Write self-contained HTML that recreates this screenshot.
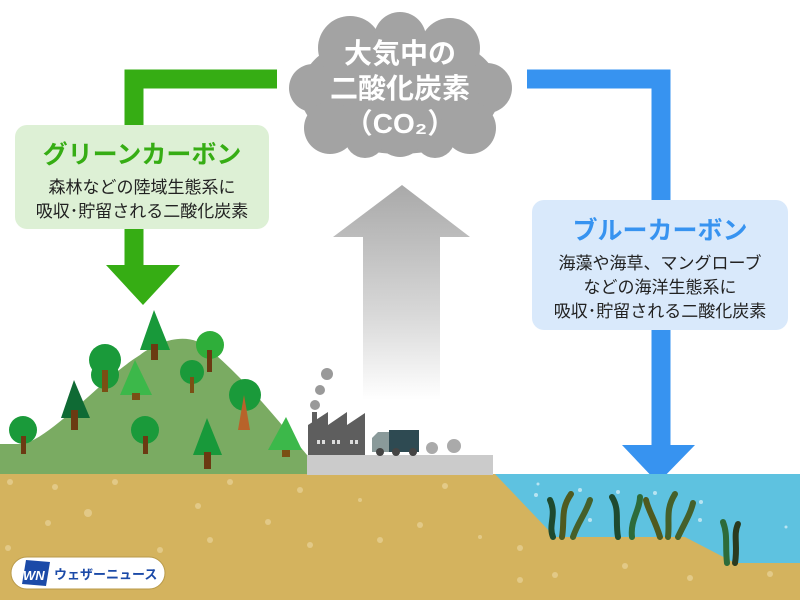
<!DOCTYPE html>
<html><head><meta charset="utf-8"><style>
html,body{margin:0;padding:0;background:#fff;}
svg{display:block;}
text{font-family:"Liberation Sans","Noto Sans CJK JP",sans-serif;}
</style></head><body>
<svg width="800" height="600" viewBox="0 0 800 600" xmlns="http://www.w3.org/2000/svg">
<defs>
<linearGradient id="ga" x1="0" y1="0" x2="0" y2="1">
<stop offset="0" stop-color="#a9a9a9"/><stop offset="0.6" stop-color="#d8d8d8"/><stop offset="1" stop-color="#ffffff"/>
</linearGradient>
</defs>
<rect width="800" height="600" fill="#fff"/>
<polygon points="402,185 470,237 440,237 440,400 363,400 363,237 333,237" fill="url(#ga)"/>
<path d="M277,79 L134,79 L134,265" fill="none" stroke="#36ad14" stroke-width="19" stroke-linejoin="miter"/>
<polygon points="106,265 180,265 143,305" fill="#36ad14"/>
<path d="M527,79 L661,79 L661,445" fill="none" stroke="#3793f0" stroke-width="19"/>
<polygon points="622,445 695,445 658,483" fill="#3793f0"/>
<rect x="15" y="125" width="254" height="104" rx="12" fill="#ddf0d5"/>
<text x="142" y="163" text-anchor="middle" font-size="25" font-weight="bold" fill="#36ad14">グリーンカーボン</text>
<text x="142" y="193" text-anchor="middle" font-size="17" fill="#222">森林などの陸域生態系に</text>
<text x="142" y="217" text-anchor="middle" font-size="17" fill="#222">吸収･貯留される二酸化炭素</text>
<rect x="532" y="200" width="256" height="130" rx="12" fill="#d9e9fb"/>
<text x="660" y="239" text-anchor="middle" font-size="25" font-weight="bold" fill="#3793f0">ブルーカーボン</text>
<text x="660" y="269" text-anchor="middle" font-size="17" fill="#222">海藻や海草、マングローブ</text>
<text x="660" y="293" text-anchor="middle" font-size="17" fill="#222">などの海洋生態系に</text>
<text x="660" y="317" text-anchor="middle" font-size="17" fill="#222">吸収･貯留される二酸化炭素</text>
<g fill="#a3a3a3">
<ellipse cx="400" cy="92" rx="100" ry="62"/>
<circle cx="350" cy="48" r="32"/><circle cx="400" cy="38" r="26"/><circle cx="450" cy="48" r="30"/>
<circle cx="313" cy="88" r="24"/><circle cx="487" cy="88" r="25"/>
<circle cx="330" cy="128" r="26"/><circle cx="470" cy="128" r="26"/>
<circle cx="400" cy="133" r="24"/><circle cx="365" cy="138" r="20"/><circle cx="435" cy="138" r="20"/>
</g>
<text x="400" y="63" text-anchor="middle" font-size="28" font-weight="bold" fill="#fff">大気中の</text>
<text x="400" y="98" text-anchor="middle" font-size="28" font-weight="bold" fill="#fff">二酸化炭素</text>
<text x="400" y="133" text-anchor="middle" font-size="28" font-weight="bold" fill="#fff">（CO₂）</text>
<rect x="493" y="474" width="307" height="126" fill="#5ec2e0"/>
<path d="M0,474 L495,474 L555,537 L685,537 L735,563 L800,563 L800,600 L0,600 Z" fill="#d4b35e"/>
<g fill="#e6cf92" opacity="0.8">
<circle cx="10" cy="482" r="3"/><circle cx="55" cy="487" r="3"/><circle cx="115" cy="482" r="3"/><circle cx="198" cy="506" r="3"/><circle cx="230" cy="482" r="3"/><circle cx="88" cy="513" r="4"/><circle cx="48" cy="523" r="3"/><circle cx="210" cy="540" r="3"/><circle cx="300" cy="490" r="3"/><circle cx="268" cy="522" r="3"/><circle cx="360" cy="500" r="2"/><circle cx="380" cy="540" r="3"/><circle cx="445" cy="486" r="3"/><circle cx="420" cy="525" r="3"/><circle cx="480" cy="537" r="2"/><circle cx="310" cy="545" r="3"/><circle cx="160" cy="550" r="3"/><circle cx="8" cy="548" r="3"/><circle cx="520" cy="548" r="3"/><circle cx="555" cy="575" r="3"/><circle cx="625" cy="566" r="3"/><circle cx="690" cy="578" r="3"/><circle cx="770" cy="574" r="3"/><circle cx="520" cy="580" r="3"/>
</g>
<g fill="#b8e4f2"><circle cx="538" cy="484" r="1.5"/><circle cx="536" cy="495" r="2"/><circle cx="580" cy="490" r="2"/><circle cx="618" cy="492" r="2"/><circle cx="655" cy="493" r="2"/><circle cx="701" cy="502" r="2"/><circle cx="700" cy="520" r="2"/><circle cx="590" cy="520" r="2"/><circle cx="786" cy="527" r="1.5"/></g>
<g stroke-linecap="round" fill="none" stroke-width="6">
<path d="M553,537 C548,525 557,515 550,500" stroke="#1e4a2e"/>
<path d="M562,537 C565,520 560,510 571,494" stroke="#4f5a1f"/>
<path d="M573,537 C578,522 585,515 590,500" stroke="#45602a"/>
<path d="M618,537 C615,520 620,510 612,497" stroke="#1e4a2e"/>
<path d="M632,537 C630,520 640,510 640,497" stroke="#2d6b3a"/>
<path d="M660,537 C655,520 648,510 646,500" stroke="#4f5a1f"/>
<path d="M668,537 C670,520 665,510 675,494" stroke="#45602a"/>
<path d="M678,537 C685,522 690,515 693,503" stroke="#45602a"/>
<path d="M727,563 C725,545 728,535 723,522" stroke="#2d6b3a"/>
<path d="M735,563 C738,545 733,535 738,524" stroke="#2a3a1f"/>
</g>
<rect x="307" y="455" width="186" height="20" fill="#cbcbcb"/>
<path d="M0,474 L0,444 L25,444 C60,430 100,380 140,355 C160,340 190,330 210,350 C240,375 270,410 307,455 L307,474 Z" fill="#7aab62"/>
<g>
<polygon points="154,310 140,350 170,350" fill="#18993a"/><rect x="151" y="344" width="7" height="16" fill="#6b3a12"/>
<circle cx="105" cy="360" r="16" fill="#1a9a3a"/><circle cx="105" cy="375" r="14" fill="#1a9a3a"/><rect x="102" y="370" width="6" height="22" fill="#7a4f14"/>
<polygon points="135,360 120,395 152,395" fill="#3cb84a"/><rect x="132" y="393" width="8" height="7" fill="#7a4f14"/>
<circle cx="210" cy="345" r="14" fill="#2fae3a"/><rect x="207" y="350" width="5" height="22" fill="#6b3a12"/>
<circle cx="192" cy="372" r="12" fill="#1a9a3a"/><rect x="190" y="377" width="4" height="16" fill="#7a4f14"/>
<polygon points="74,380 61,418 90,418" fill="#0f6a34"/><rect x="71" y="410" width="7" height="20" fill="#6b3a12"/>
<circle cx="245" cy="395" r="16" fill="#1a9a3a"/><polygon points="244,395 238,430 250,430" fill="#b8632a"/>
<circle cx="23" cy="430" r="14" fill="#1a9a3a"/><rect x="21" y="436" width="5" height="18" fill="#6b3a12"/>
<circle cx="145" cy="430" r="14" fill="#1a9a3a"/><rect x="143" y="436" width="5" height="18" fill="#6b3a12"/>
<polygon points="207,418 193,455 222,455" fill="#18993a"/><rect x="204" y="452" width="7" height="17" fill="#6b3a12"/>
<polygon points="286,417 268,450 302,450" fill="#3cb84a"/><rect x="282" y="450" width="8" height="7" fill="#7a4f14"/>
</g>
<rect x="312" y="412" width="5" height="20" fill="#5e5e5e"/>
<polygon points="308,455 308,425 328,412 328,425 347,412 347,425 365,413 365,455" fill="#5e5e5e"/>
<g fill="#ddd"><rect x="317" y="440" width="3" height="4"/><rect x="322" y="440" width="3" height="4"/><rect x="332" y="440" width="3" height="4"/><rect x="337" y="440" width="3" height="4"/><rect x="350" y="440" width="3" height="4"/><rect x="355" y="440" width="3" height="4"/></g>
<g fill="#999"><circle cx="315" cy="405" r="5"/><circle cx="320" cy="390" r="5"/><circle cx="327" cy="374" r="6"/></g>
<rect x="389" y="430" width="30" height="22" fill="#2e4a52"/>
<path d="M372,452 L372,438 L378,432 L389,432 L389,452 Z" fill="#8a9a9a"/>
<circle cx="380" cy="452" r="4" fill="#444"/><circle cx="396" cy="452" r="4" fill="#444"/><circle cx="413" cy="452" r="4" fill="#444"/>
<g fill="#aaa"><circle cx="432" cy="448" r="6"/><circle cx="454" cy="446" r="7"/></g>
<rect x="11" y="557" width="154" height="32" rx="16" fill="#fff" stroke="#b99a4a" stroke-width="1"/>
<polygon points="26,560 50,562 46,586 22,584" fill="#1b4aa8"/>
<text x="23" y="580" font-size="13" font-weight="bold" font-style="italic" fill="#fff">WN</text>
<text x="54" y="579" font-size="13" font-weight="bold" fill="#1b4aa8">ウェザーニュース</text>
</svg>
</body></html>
